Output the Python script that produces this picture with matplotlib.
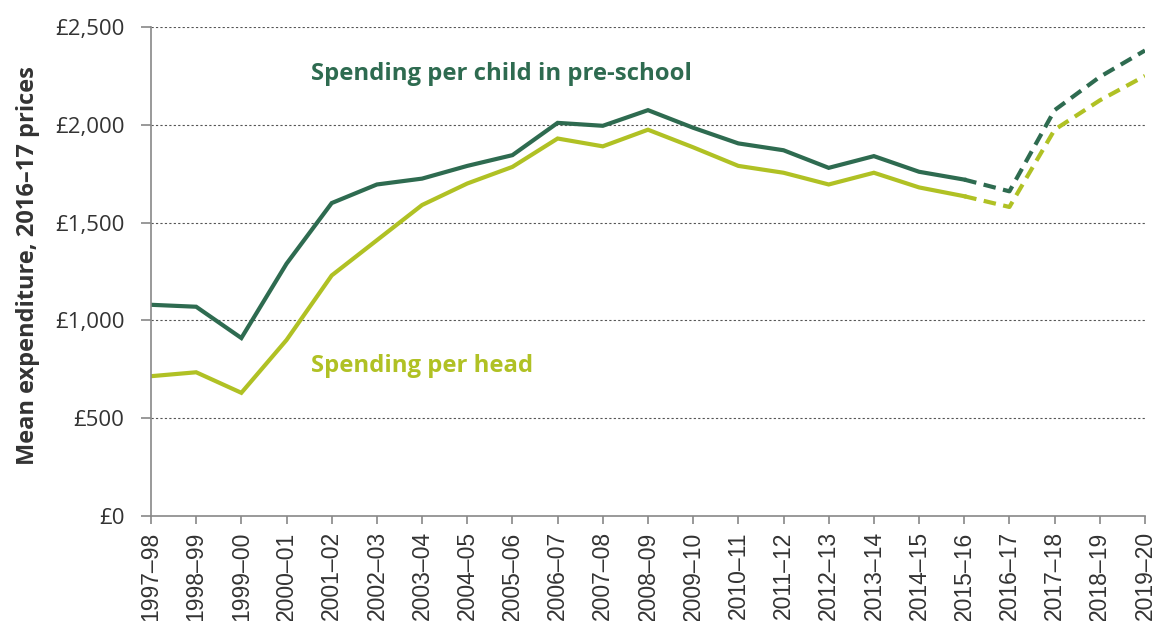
import matplotlib
matplotlib.use("Agg")
import matplotlib.pyplot as plt
from matplotlib.ticker import FuncFormatter

years = ['1997–98', '1998–99', '1999–00', '2000–01', '2001–02', '2002–03',
         '2003–04', '2004–05', '2005–06', '2006–07', '2007–08', '2008–09',
         '2009–10', '2010–11', '2011–12', '2012–13', '2013–14', '2014–15',
         '2015–16', '2016–17', '2017–18', '2018–19', '2019–20']
per_child = [1080, 1070, 910, 1290, 1600, 1695, 1725, 1790, 1845, 2010, 1995, 2075,
             1985, 1905, 1870, 1780, 1840, 1760, 1720, 1660, 2075, 2245, 2380]
per_head = [715, 735, 630, 900, 1230, 1410, 1590, 1700, 1785, 1930, 1890, 1975,
            1885, 1790, 1755, 1695, 1755, 1680, 1635, 1580, 1975, 2125, 2250]
last_outturn = 18  # index of 2015-16, projections dashed after it

dark = '#2E6B50'
light = '#B0C124'

plt.rcParams['font.family'] = ['Open Sans', 'DejaVu Sans']

fig = plt.figure(figsize=(11.57, 6.21), dpi=100)
ax = fig.add_axes([0.1305, 0.169, 0.8591, 0.7875])

x = list(range(len(years)))
for vals, col in [(per_child, dark), (per_head, light)]:
    ax.plot(x[:last_outturn + 1], vals[:last_outturn + 1], color=col, lw=3,
            solid_joinstyle='miter')
    ax.plot(x[last_outturn:], vals[last_outturn:], color=col, lw=3,
            linestyle=(0, (3, 1.8)))

ax.set_xlim(0, len(years) - 1)
ax.set_ylim(0, 2500)
ax.set_yticks(range(0, 2501, 500))
ax.yaxis.set_major_formatter(FuncFormatter(lambda v, p: '£{:,.0f}'.format(v)))
ax.set_xticks(x)
ax.set_xticklabels(years, rotation=90)

for v in range(500, 2501, 500):
    ax.axhline(v, color='#555555', lw=0.8, linestyle=(0, (2, 2)), zorder=0)

for s in ['top', 'right']:
    ax.spines[s].set_visible(False)
for s in ['left', 'bottom']:
    ax.spines[s].set_color('#888888')
    ax.spines[s].set_linewidth(1.2)
ax.tick_params(axis='both', colors='#888888', labelcolor='#333333', width=1.2)
ax.tick_params(axis='y', length=7, pad=12, labelsize=16)
ax.tick_params(axis='x', length=6, pad=5, labelsize=16.5)
for lab in ax.get_xticklabels():
    lab.set_family(['Liberation Sans', 'DejaVu Sans'])

ax.set_ylabel('Mean expenditure, 2016–17 prices', fontsize=17,
              fontweight='bold', color='#333333')
ax.yaxis.set_label_coords(-0.112, 0.513)

ax.text(3.55, 2260, 'Spending per child in pre-school', color=dark,
        fontsize=17.2, fontweight='bold', va='center')
ax.text(3.55, 765, 'Spending per head', color=light,
        fontsize=17.2, fontweight='bold', va='center')

fig.savefig('out.png', dpi=100)
